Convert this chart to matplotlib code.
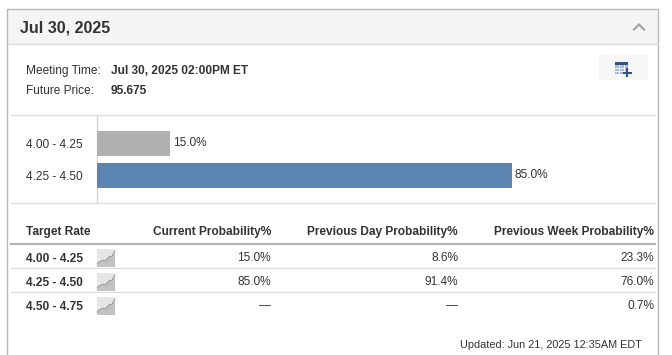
import matplotlib
matplotlib.use("Agg")
import matplotlib.pyplot as plt
from matplotlib.patches import Rectangle, Polygon

plt.rcParams['font.family'] = ['Liberation Sans', 'DejaVu Sans']

W, H = 672, 355
title = "Jul 30, 2025"
meeting_label = "Meeting Time:"
meeting_value = "Jul 30, 2025 02:00PM ET"
price_label = "Future Price:"
price_value = "95.675"
bar_categories = ["4.00 - 4.25", "4.25 - 4.50"]
bar_values = [15.0, 85.0]
bar_colors = ["#b0b0b0", "#5b84b1"]
table_headers = ["Target Rate", "Current Probability%", "Previous Day Probability%", "Previous Week Probability%"]
table_rates = ["4.00 - 4.25", "4.25 - 4.50", "4.50 - 4.75"]
current_prob = ["15.0%", "85.0%", "—"]
prev_day_prob = ["8.6%", "91.4%", "—"]
prev_week_prob = ["23.3%", "76.0%", "0.7%"]
updated = "Updated: Jun 21, 2025 12:35AM EDT"

TXT = "#333333"
FS = 8.6

fig = plt.figure(figsize=(W / 100, H / 100), dpi=100, facecolor="white")
ov = fig.add_axes([0, 0, 1, 1])
ov.set_xlim(0, W)
ov.set_ylim(H, 0)
ov.axis("off")

# panel
ov.add_patch(Rectangle((7, 9), 651, 35, fc="#f5f5f5", ec="none"))
ov.plot([7, 7, 658, 658], [H, 8.5, 8.5, H], color="#b8b8b8", lw=1.0, solid_capstyle="butt")
ov.plot([8, 658], [44, 44], color="#d8d8d8", lw=0.9)
ov.text(20, 28, title, fontsize=11.6, fontweight="bold", color=TXT, va="center")
ov.plot([634, 639, 644], [29.5, 24.5, 29.5], color="#a0a0a0", lw=1.5, solid_joinstyle="miter")

# info block
ov.text(26, 71, meeting_label, fontsize=FS, color=TXT, va="center")
ov.text(26, 91, price_label, fontsize=FS, color=TXT, va="center")
ov.text(111, 71, meeting_value, fontsize=FS, fontweight="bold", color=TXT, va="center")
ov.text(111, 91, price_value, fontsize=FS, fontweight="bold", color=TXT, va="center")

# table-export button
ov.add_patch(Rectangle((599, 55), 49, 25, fc="#f7f7f7", ec="none"))
ov.add_patch(Rectangle((615, 62), 13, 12, fc="#a9bdd6", ec="none"))
ov.add_patch(Rectangle((615, 62), 13, 3, fc="#33527f", ec="none"))
for gx in (619, 623.5):
    ov.plot([gx, gx], [65, 74], color="white", lw=0.6)
for gy in (68, 71):
    ov.plot([615, 628], [gy, gy], color="white", lw=0.6)
ov.plot([627, 627], [69, 76], color="#2f5380", lw=1.5)
ov.plot([623.5, 631], [72.5, 72.5], color="#2f5380", lw=1.5)

# chart separators
ov.plot([11, 655], [115, 115], color="#dddddd", lw=0.9)
ov.plot([11, 655], [203, 203], color="#dddddd", lw=0.9)
ov.plot([96.5, 96.5], [115, 203], color="#d5d5d5", lw=0.9)

# bar chart, 4.88 px per percentage point, rows 32 px apart
ax = fig.add_axes([97 / W, 1 - 202.5 / H, 540 / W, 88 / H])
ax.patch.set_alpha(0)
ax.set_xlim(0, 540 / 4.88)
ax.set_ylim(1.85, -0.9)
ax.barh(range(len(bar_values)), bar_values, height=0.78, color=bar_colors)
for sp in ax.spines.values():
    sp.set_visible(False)
ax.set_xticks([])
ax.set_yticks(range(len(bar_categories)))
ax.set_yticklabels(bar_categories, fontsize=FS, color=TXT, ha="left")
ax.tick_params(axis="y", length=0, pad=51.1)
for i, v in enumerate(bar_values):
    ax.annotate(f"{v:.1f}%", (v, i), xytext=(1.7, 0), textcoords="offset points",
                fontsize=FS, color=TXT, va="center")

# table
col_right = [271, 458, 654]
ov.text(26, 232, table_headers[0], fontsize=FS, fontweight="bold", color=TXT, va="center")
for x, h in zip(col_right, table_headers[1:]):
    ov.text(x, 232, h, fontsize=FS, fontweight="bold", color=TXT, va="center", ha="right")
ov.plot([11, 655], [243.5, 243.5], color="#b5b5b5", lw=1.6)
row_y = [259, 283, 307]
for y in (268, 292):
    ov.plot([11, 655], [y, y], color="#dddddd", lw=0.9)
for y, rate, a, b, c in zip(row_y, table_rates, current_prob, prev_day_prob, prev_week_prob):
    ov.text(26, y, rate, fontsize=FS, fontweight="bold", color=TXT, va="center")
    for x, s in zip(col_right, (a, b, c)):
        ov.text(x, y - 1, s, fontsize=FS, color=TXT, va="center", ha="right")
    # sparkline thumbnail
    iy = y - 1
    ov.add_patch(Rectangle((97, iy - 9), 18, 18, fc="#e6e6e6", ec="none"))
    ov.add_patch(Polygon([(97, iy + 6), (102, iy + 2), (105, iy + 3), (109, iy - 1),
                          (112, iy - 2), (115, iy - 7), (115, iy + 9), (97, iy + 9)],
                         closed=True, fc="#c2c2c2", ec="none"))
    ov.plot([97, 102, 105, 109, 112, 115], [iy + 6, iy + 2, iy + 3, iy - 1, iy - 2, iy - 7],
            color="#8f8f8f", lw=0.6)

ov.text(642, 345, updated, fontsize=7.85, color=TXT, va="center", ha="right")

fig.savefig("out.png", dpi=100)
